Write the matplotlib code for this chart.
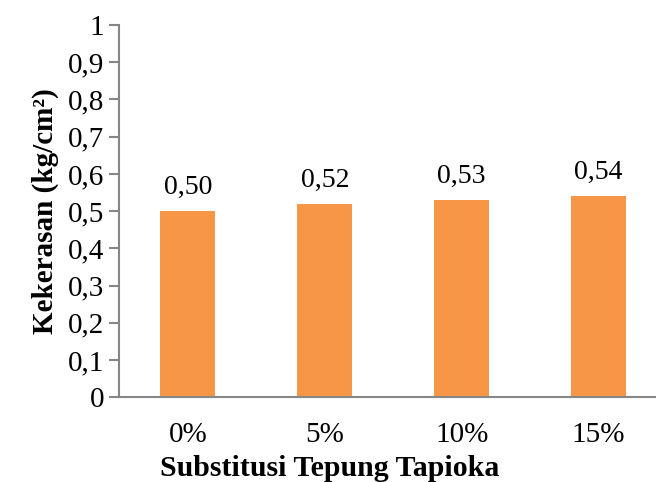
import matplotlib.pyplot as plt

# hardness by tapioca substitution level
kategori = ['0%', '5%', '10%', '15%']
kekerasan = [0.50, 0.52, 0.53, 0.54]
yticks = [0, 0.1, 0.2, 0.3, 0.4, 0.5, 0.6, 0.7, 0.8, 0.9, 1]

plt.rcParams['font.family'] = ['Liberation Serif', 'DejaVu Serif']

fig = plt.figure(figsize=(6.56, 4.82), dpi=100)
ax = fig.add_axes([0.182, 0.176, 0.835, 0.772])

x = range(len(kategori))
bars = ax.bar(x, kekerasan, width=0.4, color='#F79646')
for xi, v in zip(x, kekerasan):
    ax.text(xi, v + 0.03, f'{v:.2f}'.replace('.', ','), ha='center', va='bottom', fontsize=20)

ax.set_xlim(-0.5, len(kategori) - 0.5)
ax.set_ylim(0, 1)
ax.set_yticks(yticks)
ax.set_yticklabels([f'{t:g}'.replace('.', ',') for t in yticks], fontsize=21)
ax.set_xticks(list(x))
ax.set_xticklabels(kategori, fontsize=21)

for s in ['top', 'right']:
    ax.spines[s].set_visible(False)
for s in ['left', 'bottom']:
    ax.spines[s].set_color('#868686')
    ax.spines[s].set_linewidth(1.5)
ax.tick_params(axis='y', length=7, width=1.5, color='#868686', pad=4)
ax.tick_params(axis='x', length=0, pad=18)

ax.set_ylabel('Kekerasan (kg/cm²)', fontsize=21, fontweight='bold', labelpad=6)
ax.set_xlabel('Substitusi Tepung Tapioka', fontsize=21.5, fontweight='bold')
ax.xaxis.set_label_coords(0.384, -0.155)

fig.savefig('out.png', dpi=100)
